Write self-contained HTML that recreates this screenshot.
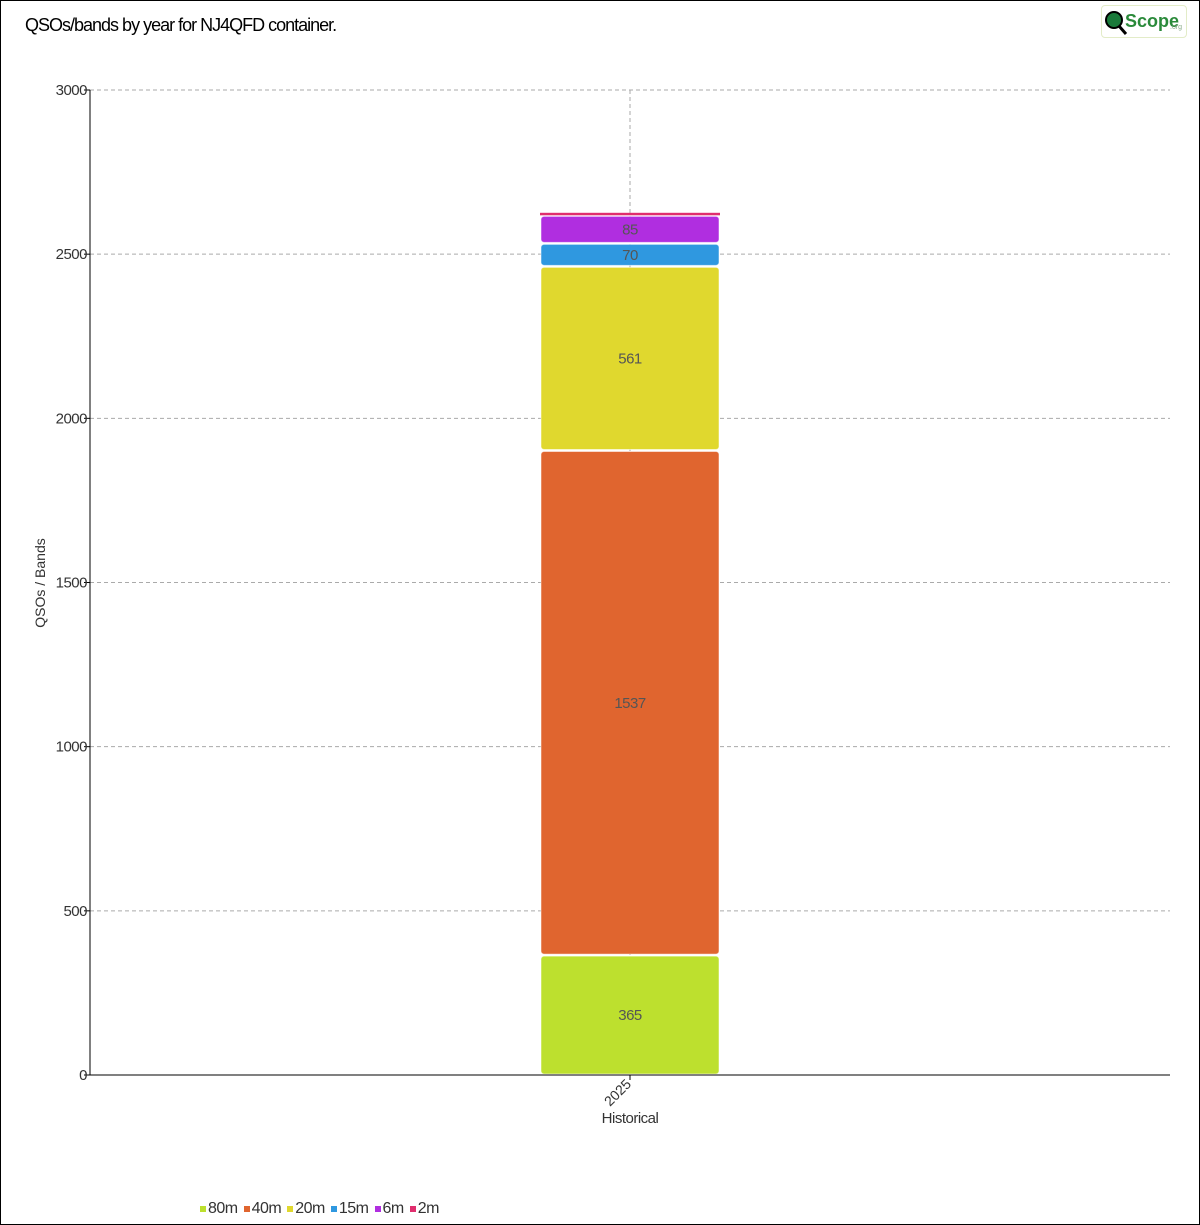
<!DOCTYPE html>
<html><head><meta charset="utf-8"><style>
html,body{margin:0;padding:0;background:#fff}
#wrap{position:relative;width:1198px;height:1223px;border:1px solid #000;overflow:hidden;font-family:"Liberation Sans",sans-serif}
#title{position:absolute;left:24px;top:14px;font-size:18px;color:#000;letter-spacing:-1px}
#logo{position:absolute;left:1100px;top:4px;width:84px;height:31px;border:1px solid #e3ecc8;border-radius:4px;background:#fff}
#legend{position:absolute;left:199px;top:1199px;font-size:16px;color:#333;display:flex;gap:6px;letter-spacing:-0.5px}
#legend span i{display:inline-block;width:6px;height:6px;margin-right:2px;vertical-align:1px}
</style></head><body>
<div id="wrap">
<div id="title">QSOs/bands by year for NJ4QFD container.</div>
<div id="logo">
<svg width="84" height="31"><circle cx="12" cy="14" r="8" fill="#1a7a3a" stroke="#000" stroke-width="2"/><line x1="17" y1="20" x2="24" y2="28" stroke="#000" stroke-width="3"/><text x="23" y="21" font-size="18" font-weight="bold" fill="#2a8a3a" font-family="Liberation Sans">Scope</text><text x="68" y="23" font-size="7" fill="#8a8">.org</text></svg>
</div>
<svg id="chart" width="1198" height="1223" style="position:absolute;left:0;top:0"></svg>
<div id="legend"></div>
</div>
<script>
const categories=["2025"];
const bands=["80m","40m","20m","15m","6m","2m"];
const values80m=[365];
const values40m=[1537];
const values20m=[561];
const values15m=[70];
const values6m=[85];
const values2m=[8];
const colors=["#bde02e","#e0652f","#e0d82e","#2f98e0","#b02ee0","#e02e6e"];
const yTicks=[0,500,1000,1500,2000,2500,3000];
const series=[values80m,values40m,values20m,values15m,values6m,values2m];
const NS="http://www.w3.org/2000/svg";
const svg=document.getElementById('chart');
const x0=89,x1=1169,y0=1074,y1=89,yMax=3000;
const y=v=>y0-(v/yMax)*(y0-y1);
const bandW=(x1-x0)/categories.length;
const xc=i=>x0+bandW*(i+0.5);
function mk(t,a){const e=document.createElementNS(NS,t);for(const k in a)e.setAttribute(k,a[k]);svg.appendChild(e);return e;}
yTicks.forEach(t=>{
  if(t>0){const g=mk('line',{x1:x0,x2:x1,y1:y(t),y2:y(t),stroke:'#aaa','stroke-dasharray':'4,3'});
  
  }
  const tk=mk('line',{x1:x0-6,x2:x0,y1:y(t),y2:y(t),stroke:'#000'});
  
  
  const l=mk('text',{x:x0-3,y:y(t)+5,'text-anchor':'end','font-size':15,fill:'#333','font-family':'Liberation Sans','letter-spacing':'-0.5'});
  l.textContent=t;
  
  
});
categories.forEach((c,i)=>{
  const vg=mk('line',{x1:xc(i),x2:xc(i),y1:y1,y2:y0,stroke:'#aaa','stroke-dasharray':'4,3'});
  
  
  let acc=0;const bw=180;
  series.forEach((s,k)=>{
    const v=s[i];const top=y(acc+v),bot=y(acc);acc+=v;
    let r;
    if(bands[k]==='2m'){r=mk('rect',{x:xc(i)-bw/2,y:top,width:bw,height:Math.max(bot-top-0.5,2.5),fill:colors[k]});}
    else{r=mk('rect',{x:xc(i)-bw/2+1,y:top+1,width:bw-2,height:Math.max(bot-top-2,1),rx:3,fill:colors[k],stroke:'#fff','stroke-opacity':0.5,'stroke-width':1});
      const t=mk('text',{x:xc(i),y:(top+bot)/2+5,'text-anchor':'middle','font-size':15,fill:'#555','font-family':'Liberation Sans','letter-spacing':'-0.5'});
      t.textContent=v;
      
      }
    
    
  });
  const xt=mk('line',{x1:xc(i),x2:xc(i),y1:y0,y2:y0+5,stroke:'#000'});
  
  
  const xl=mk('text',{x:xc(i)+2,y:y0+10,'text-anchor':'end','font-size':14,fill:'#333',transform:`rotate(-45 ${xc(i)+2} ${y0+10})`,'font-family':'Liberation Sans'});
  xl.textContent=c;
  
  
});
const ax=mk('line',{x1:x0,x2:x0,y1:y1,y2:y0,stroke:'#000'});


const bx=mk('line',{x1:x0,x2:x1,y1:y0,y2:y0,stroke:'#000'});


const xtitle=mk('text',{x:(x0+x1)/2,y:1122,'text-anchor':'middle','font-size':15,fill:'#333','font-family':'Liberation Sans','letter-spacing':'-0.5'});
xtitle.textContent='Historical';


const ytitle=mk('text',{x:44,y:582,'text-anchor':'middle','font-size':14,fill:'#333',transform:'rotate(-90 44 582)','font-family':'Liberation Sans'});
ytitle.textContent='QSOs / Bands';


const lg=document.getElementById('legend');
bands.forEach((b,k)=>{
  const s=document.createElement('span');
  
  
  s.innerHTML=`<i style="background:${colors[k]}"></i>${b}`;
  lg.appendChild(s);
});
</script>
</body></html>
